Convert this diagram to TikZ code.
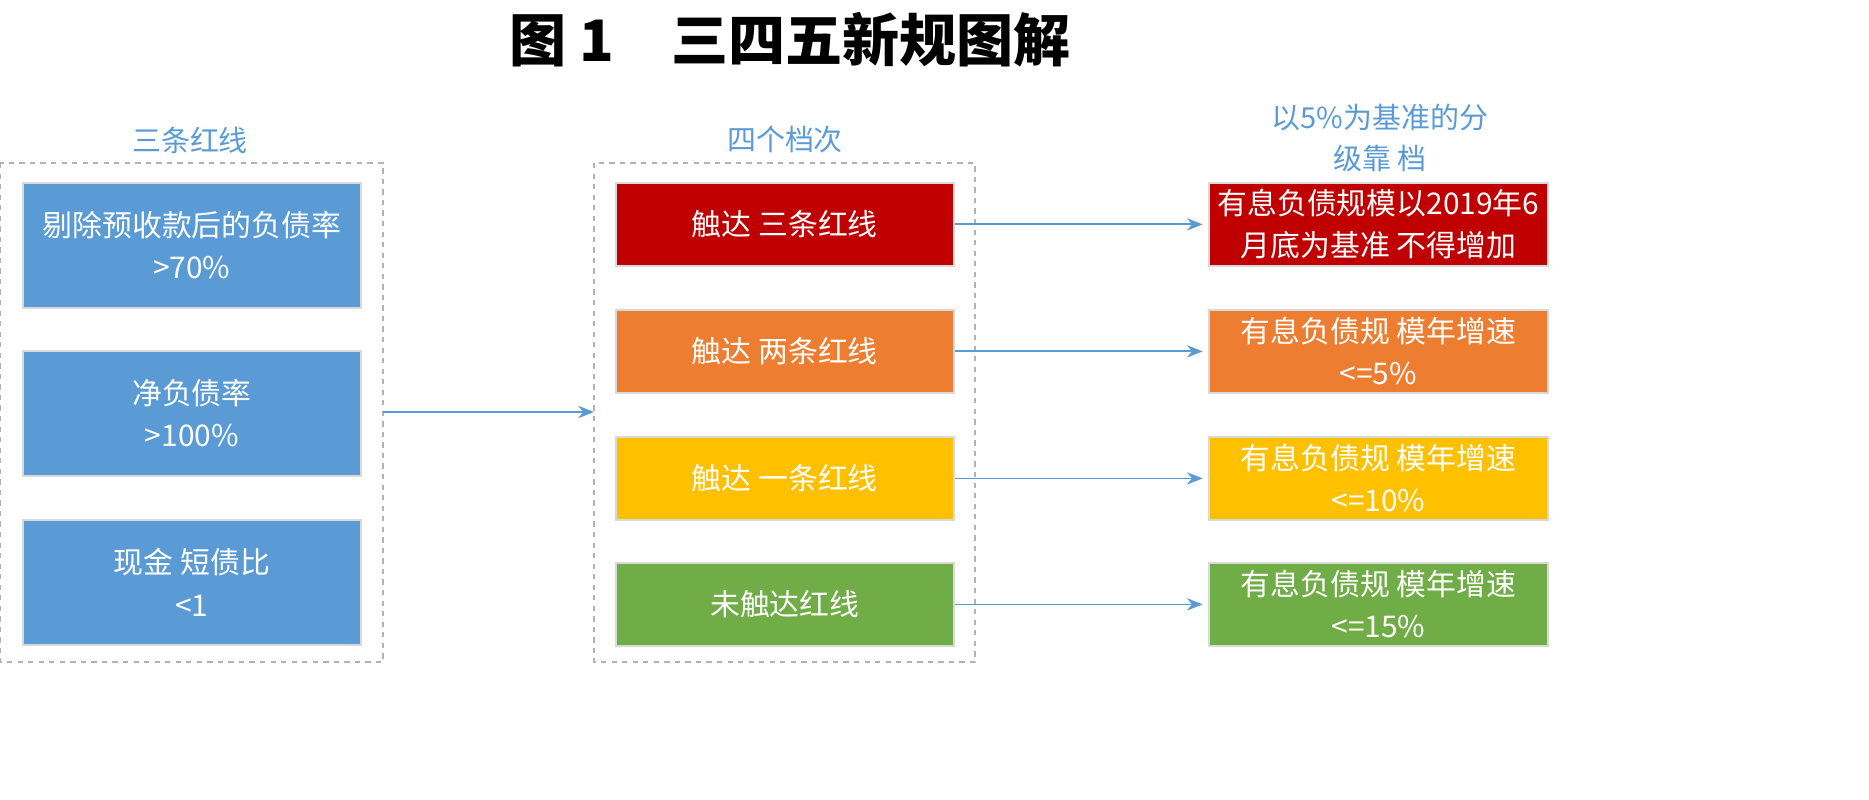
\documentclass[tikz,border=0pt]{standalone}
\usepackage{fontspec}
\usetikzlibrary{arrows.meta}
\setmainfont{Noto Sans CJK SC}
\begin{document}
\begin{tikzpicture}[x=0.02cm,y=-0.02cm,
 frame/.style={draw=gray!60,dashed,line width=1.2pt},
 bx/.style={draw=white!85!black,line width=1pt,text=white,align=center,font=\fontsize{17}{24}\selectfont,inner sep=0pt},
 lab/.style={font=\fontsize{16.5}{23}\selectfont,align=center},
 arr/.style={draw=cb,line width=1pt,-{Stealth[length=9pt,width=7pt]}}]
\definecolor{cb}{HTML}{5B9BD5}\definecolor{cr}{HTML}{C00000}\definecolor{co}{HTML}{ED7D31}
\definecolor{cy}{HTML}{FFC000}\definecolor{cg}{HTML}{70AD47}\definecolor{ct}{HTML}{5B9BD5}
\useasboundingbox (0,0) rectangle (1869,800);
\node[font=\bfseries\fontsize{32.5}{38}\selectfont] (title) at (790,40) {图 1\quad 三四五新规图解};
\node[lab,text=ct] (l1) at (190,140) {三条红线};
\node[lab,text=ct] (l2) at (785,140) {四个档次};
\node[lab,text=ct] (l3) at (1380,138) {以5\%为基准的分\\级靠 档};
\draw[frame] (0,163) rectangle (383,662);
\draw[frame] (594,163) rectangle (975,662);
\coordinate (fl) at (383,412); \coordinate (fm) at (594,412);
\foreach \n/\y/\t in {a/182/{剔除预收款后的负债率\\>70\%},b/350/{净负债率\\>100\%},c/519/{现金 短债比\\<1}}
  \node[bx,fill=cb,minimum width=338*0.02cm,minimum height=125*0.02cm,anchor=north west] (\n) at (22,\y) {\t};
\foreach \n/\y/\c/\t/\u in {r/182/cr/{触达 三条红线}/{有息负债规模以2019年6\\月底为基准 不得增加},o/309/co/{触达 两条红线}/{有息负债规 模年增速\\<=5\%},y/436/cy/{触达 一条红线}/{有息负债规 模年增速\\<=10\%},g/562/cg/{未触达红线}/{有息负债规 模年增速\\<=15\%}}{
  \node[bx,fill=\c,minimum width=338*0.02cm,minimum height=83*0.02cm,anchor=north west] (m\n) at (615,\y) {\t};
  \node[bx,fill=\c,minimum width=339*0.02cm,minimum height=83*0.02cm,anchor=north west] (r\n) at (1208,\y) {\u};
  \draw[arr] (m\n.east) -- ([xshift=-3]r\n.west);
}
\draw[arr] (fl) -- (fm);
\end{tikzpicture}
\end{document}
